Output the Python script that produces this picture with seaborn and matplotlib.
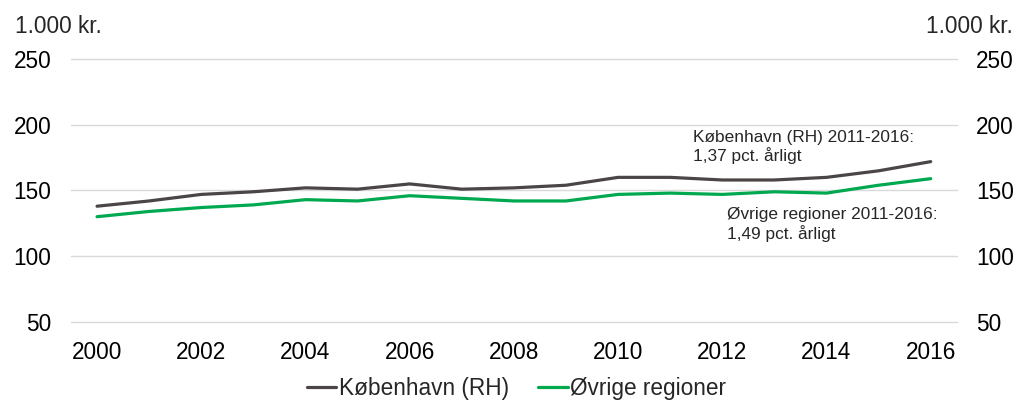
import numpy as np
import pandas as pd
import matplotlib
matplotlib.use("Agg")
import matplotlib.pyplot as plt
import seaborn as sns

# Data (1.000 kr.)
years = list(range(2000, 2017))
kbh = [138, 142, 147, 149, 152, 151, 155, 151, 152, 154, 160, 160, 158, 158, 160, 165, 172]
ovrige = [130, 134, 137, 139, 143, 142, 146, 144, 142, 142, 147, 148, 147, 149, 148, 154, 159]
series_names = ["København (RH)", "Øvrige regioner"]
colors = ["#4b4646", "#00a950"]
y_ticks = [50, 100, 150, 200, 250]
x_labels = [str(y) for y in years[::2]]
unit = "1.000 kr."
notes = ["København (RH) 2011-2016:\n1,37 pct. årligt",
         "Øvrige regioner 2011-2016:\n1,49 pct. årligt"]

df = pd.DataFrame({
    "idx": list(range(len(years))) * 2,
    "value": kbh + ovrige,
    "serie": [series_names[0]] * len(years) + [series_names[1]] * len(years),
})

sns.set_theme(style="white")
plt.rcParams["font.family"] = ["Liberation Sans", "DejaVu Sans"]
FS = 16.3

fig = plt.figure(figsize=(10.2, 4.01), dpi=100)
ax = fig.add_axes([0.0696, 0.198, 0.8684, 0.654])

# Gridlines first so lines sit on top
for t in y_ticks:
    ax.axhline(t, color="#d9d9d9", lw=1, zorder=0, clip_on=False)

sns.lineplot(data=df, x="idx", y="value", hue="serie", palette=colors,
             linewidth=2.3, ax=ax, legend=True)

ax.set_xlim(-0.5, len(years) - 0.5)
ax.set_ylim(50, 250)
ax.set_yticks(y_ticks)
ax.set_xticks(range(0, len(years), 2))
ax.set_xticklabels(x_labels)
ax.set_xlabel("")
ax.set_ylabel("")
ax.tick_params(axis="both", length=0, labelsize=FS, colors="black")
ax.tick_params(axis="x", pad=14)
ax.tick_params(axis="y", pad=14)
for s in ax.spines.values():
    s.set_visible(False)

ax2 = ax.twinx()
ax2.set_ylim(50, 250)
ax2.set_yticks(y_ticks)
ax2.tick_params(axis="y", length=0, labelsize=FS, pad=14, colors="black")
for s in ax2.spines.values():
    s.set_visible(False)
ax2.grid(False)

fig.text(0.015, 0.933, unit, fontsize=FS, va="center", ha="left")
fig.text(0.993, 0.933, unit, fontsize=FS, va="center", ha="right")

ax.text(11.44, 196.5, notes[0], fontsize=12.4, va="top", ha="left", linespacing=1.2)
ax.text(12.09, 137.5, notes[1], fontsize=12.4, va="top", ha="left", linespacing=1.2)

handles, labels = ax.get_legend_handles_labels()
ax.legend(handles, labels, loc="center", bbox_to_anchor=(0.503, -0.255),
          ncol=2, frameon=False, fontsize=FS, handlelength=1.3,
          handletextpad=0.1, columnspacing=1.3)

fig.savefig("out.png", dpi=100)
